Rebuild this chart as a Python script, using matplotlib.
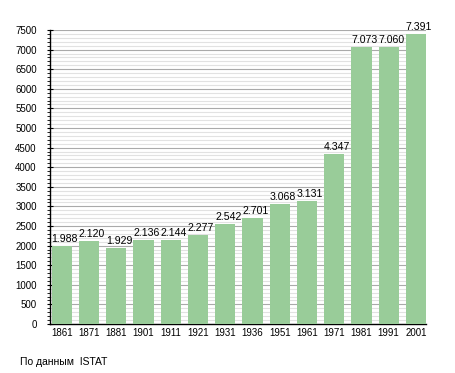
import matplotlib
matplotlib.use("Agg")
import matplotlib.pyplot as plt
from matplotlib.ticker import MultipleLocator

years = ["1861", "1871", "1881", "1901", "1911", "1921", "1931", "1936",
         "1951", "1961", "1971", "1981", "1991", "2001"]
population = [1988, 2120, 1929, 2136, 2144, 2277, 2542, 2701,
              3068, 3131, 4347, 7073, 7060, 7391]

plt.rcParams['font.family'] = ['Liberation Sans', 'DejaVu Sans']

fig = plt.figure(figsize=(4.55, 3.73), dpi=100)
ax = fig.add_axes([50 / 455, 1 - 324 / 373, 376 / 455, 294 / 373])

w = 0.74
x = list(range(len(years)))
ax.bar(x, population, width=w, color='#99CC99', zorder=3)
for xi, v in zip(x, population):
    ax.annotate(f"{v:,}".replace(',', '.'), xy=(xi - w / 2, v),
                xytext=(0, 1.5), textcoords='offset points',
                ha='left', va='bottom', fontsize=7.6, zorder=4)

ax.set_xlim(-w / 2 - 0.06, len(years) - 1 + w / 2)
ax.set_ylim(0, 7500)
ax.yaxis.set_major_locator(MultipleLocator(500))
ax.yaxis.set_minor_locator(MultipleLocator(100))
ax.grid(axis='y', which='major', color='#aaaaaa', linewidth=0.8, zorder=0)
ax.grid(axis='y', which='minor', color='#e2e2e2', linewidth=0.8, zorder=0)
ax.set_xticks(x)
ax.set_xticklabels(years)
ax.tick_params(axis='x', length=0, labelsize=7, pad=3)
ax.tick_params(axis='y', which='major', length=5, width=0.8, direction='inout',
               labelsize=7, pad=7)
ax.tick_params(axis='y', which='minor', length=2.5, width=0.6)
for s in ['top', 'right']:
    ax.spines[s].set_visible(False)
ax.spines['left'].set_linewidth(1.0)
ax.spines['bottom'].set_linewidth(1.0)

fig.text(20 / 455, 1 - 362 / 373, "По данным  ISTAT", fontsize=7.5, va='center', ha='left')

fig.savefig("out.png", dpi=100)
